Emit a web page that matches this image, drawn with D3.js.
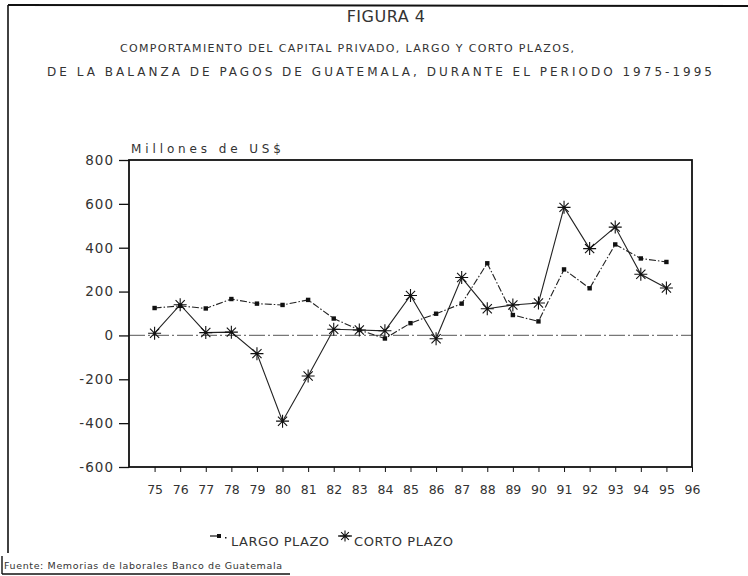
<!DOCTYPE html>
<html><head><meta charset="utf-8">
<script src="https://cdn.jsdelivr.net/npm/d3@7"></script>
<style>
html,body{margin:0;padding:0;background:#fff;}
svg text{font-family:"DejaVu Sans","Liberation Sans",sans-serif;fill:#333;}
</style></head>
<body>
<svg id="c" width="748" height="576"></svg>
<script>
const years = [75,76,77,78,79,80,81,82,83,84,85,86,87,88,89,90,91,92,93,94,95];
const largoPlazo = [125,135,123,166,145,139,162,77,25,-14,56,99,145,329,93,64,301,215,415,351,335];
const cortoPlazo = [10,140,13,15,-83,-391,-185,28,25,21,182,-15,264,122,139,148,584,396,494,279,216];
const yTicks = [800,600,400,200,0,-200,-400,-600];
const xTickLabels = ["75","76","77","78","79","80","81","82","83","84","85","86","87","88","89","90","91","92","93","94","95","96"];
const titleText = "FIGURA 4";
const subtitle1 = "COMPORTAMIENTO DEL CAPITAL PRIVADO, LARGO Y CORTO PLAZOS,";
const subtitle2 = "DE LA BALANZA DE PAGOS DE GUATEMALA, DURANTE EL PERIODO 1975-1995";
const yLabel = "Millones de US$";
const seriesNames = ["LARGO PLAZO","CORTO PLAZO"];
const source = "Fuente: Memorias de laborales Banco de Guatemala";

const svg = d3.select("#c");
const L = 129, R = 692, T = 160, B = 467;
const x = d3.scaleLinear().domain([74,96]).range([L,R]);
const y = d3.scaleLinear().domain([-600,800]).range([B,T]);

// page frame
svg.append("line").attr("x1",8).attr("x2",748).attr("y1",5).attr("y2",6).attr("stroke","#111").attr("stroke-width",2);
svg.append("line").attr("x1",8).attr("x2",8).attr("y1",5).attr("y2",553).attr("stroke","#111").attr("stroke-width",1.6);

// titles
svg.append("text").attr("x",386).attr("y",22).attr("text-anchor","middle").attr("font-size",16)
  .attr("font-family","Liberation Sans, sans-serif").attr("letter-spacing",0.5).text(titleText);
svg.append("text").attr("x",120).attr("y",52).attr("font-size",11)
  .attr("textLength",454).attr("lengthAdjust","spacing").text(subtitle1);
svg.append("text").attr("x",47).attr("y",76).attr("font-size",12)
  .attr("textLength",665).attr("lengthAdjust","spacing").text(subtitle2);
svg.append("text").attr("x",131).attr("y",153).attr("font-size",12)
  .attr("textLength",150).attr("lengthAdjust","spacing").text(yLabel);

// zero line
svg.append("line").attr("x1",L).attr("x2",R).attr("y1",y(0)).attr("y2",y(0))
  .attr("stroke","#777").attr("stroke-width",1.2).attr("stroke-dasharray","16,3,2,3");

// axes
const yAxis = d3.axisLeft(y).tickValues(yTicks).tickSize(10).tickPadding(5)
  .tickFormat(d => String(d));
const gy = svg.append("g").attr("transform",`translate(${L},0)`).call(yAxis);
gy.select(".domain").remove();
gy.selectAll(".tick line").attr("stroke","#111").attr("stroke-width",1.3);
gy.selectAll(".tick text").attr("font-size",13.5).attr("letter-spacing",1).attr("fill","#333")
  .attr("font-family","Liberation Sans, sans-serif");

const xAxis = d3.axisBottom(x).tickValues(d3.range(75,97)).tickSize(5).tickPadding(13)
  .tickFormat((d,i) => xTickLabels[i]);
const gx = svg.append("g").attr("transform",`translate(0,${B})`).call(xAxis);
gx.select(".domain").remove();
gx.selectAll(".tick line").attr("stroke","#111").attr("stroke-width",1);
gx.selectAll(".tick text").attr("font-size",12.5).attr("fill","#333")
  .attr("font-family","Liberation Sans, sans-serif");

// frame
svg.append("rect").attr("x",L).attr("y",T).attr("width",R-L).attr("height",B-T)
  .attr("fill","none").attr("stroke","#111").attr("stroke-width",1.8);

// lines
const line = d3.line().x((d,i) => x(years[i])).y(d => y(d));
svg.append("path").datum(largoPlazo).attr("d",line).attr("fill","none")
  .attr("stroke","#222").attr("stroke-width",1.1).attr("stroke-dasharray","7,2,1.5,2");
svg.append("path").datum(cortoPlazo).attr("d",line).attr("fill","none")
  .attr("stroke","#222").attr("stroke-width",1.1);

// markers
function asterisk(r){
  const p = d3.path();
  for (let k=0;k<4;k++){
    const a = k*Math.PI/4;
    p.moveTo(Math.cos(a)*r, Math.sin(a)*r);
    p.lineTo(-Math.cos(a)*r, -Math.sin(a)*r);
  }
  return p.toString();
}
svg.append("g").selectAll("rect").data(largoPlazo).join("rect")
  .attr("x",(d,i)=>x(years[i])-2.2).attr("y",d=>y(d)-2.2).attr("width",4.4).attr("height",4.4).attr("fill","#111");
svg.append("g").selectAll("path").data(cortoPlazo).join("path")
  .attr("transform",(d,i)=>`translate(${x(years[i])},${y(d)})`).attr("d",asterisk(6.5))
  .attr("fill","none").attr("stroke","#111").attr("stroke-width",1.1);

// legend
const lg = svg.append("g");
lg.append("line").attr("x1",210).attr("x2",218).attr("y1",536).attr("y2",536).attr("stroke","#111").attr("stroke-width",1.2);
lg.append("rect").attr("x",217).attr("y",534).attr("width",4).attr("height",4).attr("fill","#111");
lg.append("rect").attr("x",225).attr("y",537).attr("width",1.5).attr("height",1.5).attr("fill","#111");
lg.append("text").attr("x",231).attr("y",546).attr("font-size",13)
  .attr("textLength",98).attr("lengthAdjust","spacing").text(seriesNames[0]);
lg.append("line").attr("x1",338).attr("x2",352).attr("y1",536).attr("y2",536).attr("stroke","#111").attr("stroke-width",1.2);
lg.append("path").attr("transform","translate(345,536)").attr("d",asterisk(5.5)).attr("fill","none").attr("stroke","#111").attr("stroke-width",1.1);
lg.append("text").attr("x",354).attr("y",546).attr("font-size",13)
  .attr("textLength",99).attr("lengthAdjust","spacing").text(seriesNames[1]);

// source
svg.append("line").attr("x1",2).attr("x2",2).attr("y1",556).attr("y2",574).attr("stroke","#111").attr("stroke-width",1.4);
svg.append("line").attr("x1",2).attr("x2",290).attr("y1",574).attr("y2",574).attr("stroke","#111").attr("stroke-width",1.4);
svg.append("text").attr("x",4).attr("y",569).attr("font-size",9.5)
  .attr("textLength",278).attr("lengthAdjust","spacing").text(source);
</script>
</body></html>
